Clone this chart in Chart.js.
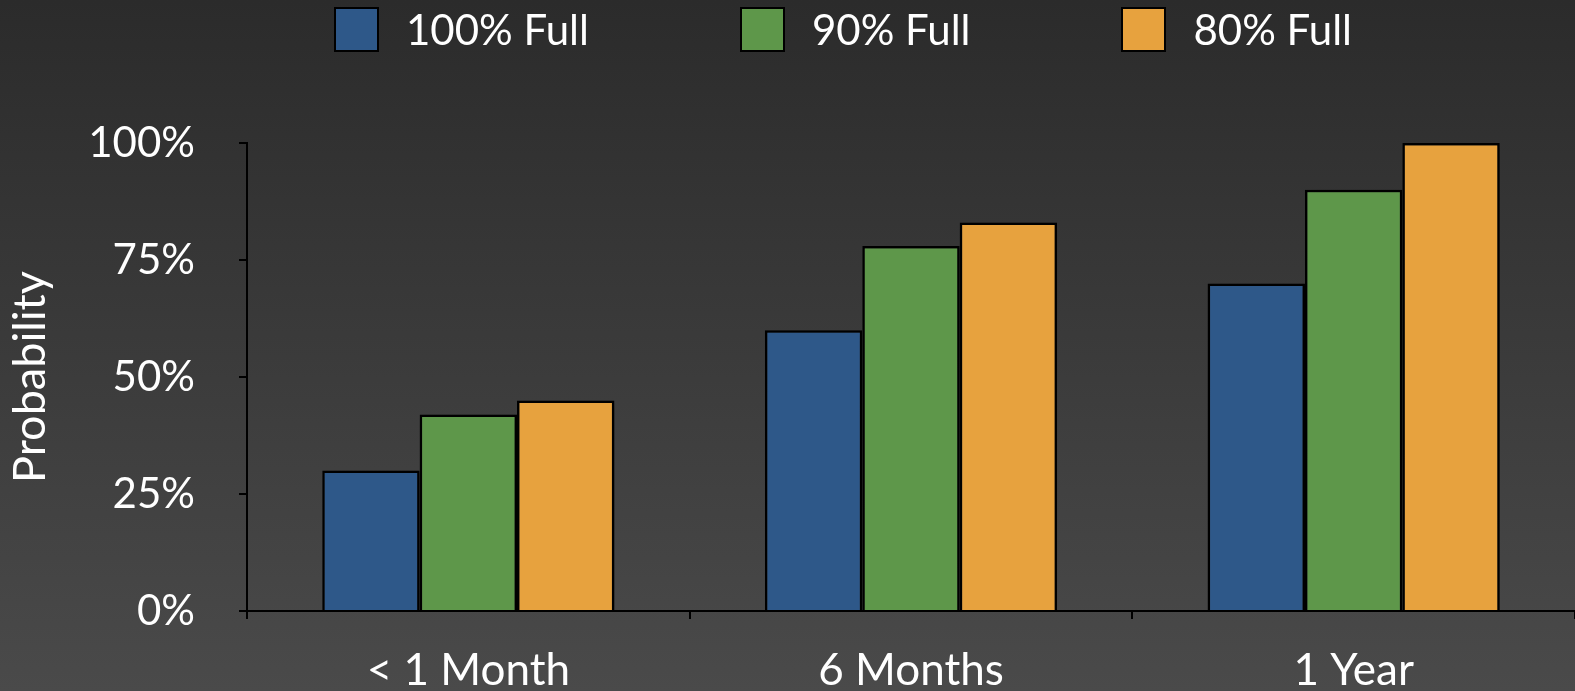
<!DOCTYPE html>
<html><head><meta charset="utf-8">
<script src="https://cdn.jsdelivr.net/npm/chart.js@4.4.0/dist/chart.umd.min.js"></script>
<style>
html,body{margin:0;padding:0;width:1575px;height:691px;overflow:hidden;background:linear-gradient(#2b2b2b,#4a4a4a);}
#wrap{position:relative;width:1575px;height:691px;}
canvas{display:block;}
#legend{position:absolute;left:334px;top:7px;display:flex;align-items:center;gap:151px;font-family:Lato,sans-serif;font-size:42px;color:#fff;line-height:45px;}
.item{display:flex;align-items:center;white-space:nowrap;}
.box{width:45px;height:45px;box-sizing:border-box;border:2.5px solid #000;margin-right:27px;}
</style></head>
<body><div id="wrap"><canvas id="c"></canvas><div id="legend"></div></div>
<script>
const categories = ['< 1 Month', '6 Months', '1 Year'];
const seriesNames = ['100% Full', '90% Full', '80% Full'];
const full100 = [30, 60, 70];
const full90 = [42, 78, 90];
const full80 = [45, 83, 100];
const yTicks = [0, 25, 50, 75, 100];
const colors = ['#2e5889', '#5e974a', '#e7a23e'];

Chart.defaults.font.family = 'Lato';

const shadowPlugin = {
  id: 'shadow',
  beforeDatasetsDraw(chart) {
    const c = chart.ctx; c.save();
    c.shadowColor = 'rgba(0,0,0,0.45)'; c.shadowBlur = 8; c.shadowOffsetX = 3; c.shadowOffsetY = 3;
  },
  afterDatasetsDraw(chart) { chart.ctx.restore(); }
};

const seriesValues = [full100, full90, full80];
const chart = new Chart(document.getElementById('c'), {
  type: 'bar',
  data: {
    labels: categories,
    datasets: seriesNames.map((n, i) => ({
      label: n, data: seriesValues[i], backgroundColor: colors[i],
      borderColor: '#000', borderWidth: 2.5,
      barPercentage: 1, categoryPercentage: 0.66
    }))
  },
  options: {
    responsive: true, maintainAspectRatio: false, animation: false,
    layout: { padding: { top: 143, right: 0, bottom: 0, left: 0 } },
    plugins: { legend: { display: false }, tooltip: { enabled: false } },
    scales: {
      x: {
        afterFit: s => { s.height = 80; },
        grid: { offset: true, drawOnChartArea: false, drawTicks: true, tickLength: 8, color: '#000', lineWidth: 2 },
        border: { display: true, color: '#000', width: 2 },
        ticks: { color: '#fff', font: { size: 44 }, padding: 25 }
      },
      y: {
        min: 0, max: 100,
        afterBuildTicks: s => { s.ticks = yTicks.map(v => ({ value: v })); },
        afterFit: s => { s.width = 247; },
        grid: { drawOnChartArea: false, drawTicks: true, tickLength: 8, color: '#000', lineWidth: 2 },
        border: { display: true, color: '#000', width: 2 },
        ticks: { color: '#fff', font: { size: 42 }, padding: 44, callback: v => v + '%' },
        title: { display: true, text: 'Probability', color: '#fff', font: { size: 45 }, padding: { top: 3, bottom: 0 } }
      }
    }
  },
  plugins: [shadowPlugin]
});

const lg = document.getElementById('legend');
chart.data.datasets.forEach(ds => {
  const it = document.createElement('div'); it.className = 'item';
  const b = document.createElement('div'); b.className = 'box'; b.style.background = ds.backgroundColor;
  const t = document.createElement('span'); t.textContent = ds.label;
  it.appendChild(b); it.appendChild(t); lg.appendChild(it);
});
</script>
</body></html>
